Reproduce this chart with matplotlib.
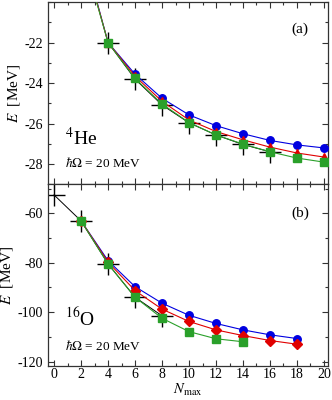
import matplotlib
matplotlib.use("Agg")
import matplotlib.pyplot as plt
from matplotlib.ticker import MultipleLocator, FixedLocator

plt.rcParams['font.family'] = 'Liberation Serif'
plt.rcParams['mathtext.fontset'] = 'stix'
plt.rcParams['axes.unicode_minus'] = False

# 4He panel
he_x = [2, 4, 6, 8, 10, 12, 14, 16, 18, 20]
he_blue = [-17.1, -22.0, -23.56, -24.75, -25.57, -26.1, -26.5, -26.83, -27.05, -27.2]
he_red = [-17.2, -22.0, -23.66, -24.9, -25.82, -26.39, -26.8, -27.16, -27.45, -27.65]
he_green = [-17.3, -22.0, -23.77, -25.03, -25.95, -26.56, -27.01, -27.39, -27.7, -27.9]
he_cross_x = [4, 6, 8, 10, 12, 14, 16]
he_cross = [-22.0, -23.8, -25.08, -25.96, -26.56, -27.03, -27.39]
he_yticks = [-28, -26, -24, -22]

# 16O panel
o_x = [2, 4, 6, 8, 10, 12, 14, 16, 18]
o_blue = [-63.1, -79.2, -89.7, -96.4, -101.3, -104.6, -107.2, -109.2, -110.7]
o_red = [-63.1, -79.8, -91.3, -98.8, -103.8, -107.2, -109.5, -111.5, -113.0]
o_green_x = [2, 4, 6, 8, 10, 12, 14]
o_green = [-63.1, -80.5, -94.0, -102.5, -107.9, -110.8, -112.0]
o_cross_x = [0, 2, 4, 6, 8]
o_cross = [-52.6, -63.1, -80.5, -94.0, -101.5]

fig = plt.figure(figsize=(3.32, 4.0), dpi=100)
ax1 = fig.add_axes([0.1446, 0.539, 0.8434, 0.4558])
ax2 = fig.add_axes([0.1446, 0.0857, 0.8434, 0.4535])

ms = 5.4
lw = 0.8


def draw(ax, cx, cy, series, red_marker):
    ax.plot(cx, cy, color='black', lw=0.7, zorder=1)
    ax.plot(cx, cy, ls='none', marker='+', ms=16, mew=1.0, color='black', zorder=2)
    (bx, by), (rx, ry), (gx, gy) = series
    ax.plot(bx, by, color='#0000e0', lw=lw, marker='o', ms=ms, zorder=3)
    ax.plot(rx, ry, color='#e00000', lw=lw, marker=red_marker, ms=ms, zorder=4)
    ax.plot(gx, gy, color='#2aa02a', lw=lw, marker='s', ms=ms, zorder=5)


draw(ax1, he_cross_x, he_cross,
     [(he_x, he_blue), (he_x, he_red), (he_x, he_green)], '^')
draw(ax2, o_cross_x, o_cross,
     [(o_x, o_blue), (o_x, o_red), (o_green_x, o_green)], 'D')

for ax in (ax1, ax2):
    ax.set_xlim(-0.45, 20.3)
    ax.xaxis.set_major_locator(MultipleLocator(2))
    ax.xaxis.set_minor_locator(MultipleLocator(1))
    ax.tick_params(which='both', direction='in', top=True, right=True,
                   labelsize=10, width=0.8, color='#333333')
    ax.tick_params(which='major', length=4.5)
    ax.tick_params(which='minor', length=2.5)
    ax.tick_params(axis='x', pad=2)
    for s in ax.spines.values():
        s.set_linewidth(0.9)
        s.set_color('#333333')
    ax.set_ylabel(r'$E$  [MeV]', fontsize=11, labelpad=2)

ax1.set_ylim(-29, -20)
ax1.yaxis.set_major_locator(FixedLocator(he_yticks))
ax1.yaxis.set_minor_locator(MultipleLocator(1))
ax1.tick_params(labelbottom=False)

ax2.set_ylim(-121.7, -48.3)
ax2.yaxis.set_major_locator(MultipleLocator(20))
ax2.yaxis.set_minor_locator(MultipleLocator(10))
ax2.set_xlabel(r'$N_{\mathrm{max}}$', fontsize=10.5, labelpad=0)

ax1.text(0.9, 0.85, '(a)', transform=ax1.transAxes, fontsize=11, ha='center', va='center')
ax2.text(0.9, 0.84, '(b)', transform=ax2.transAxes, fontsize=11, ha='center', va='center')

ax1.text(0.06, 0.255, r'$^{4}$He', transform=ax1.transAxes, fontsize=14, va='center')
ax1.text(0.06, 0.12, r'$\hbar\Omega$ = 20 MeV', transform=ax1.transAxes, fontsize=9.5, va='center')
ax2.text(0.06, 0.26, r'$^{16}$O', transform=ax2.transAxes, fontsize=14, va='center')
ax2.text(0.06, 0.11, r'$\hbar\Omega$ = 20 MeV', transform=ax2.transAxes, fontsize=9.5, va='center')

fig.savefig('out.png', dpi=100)
